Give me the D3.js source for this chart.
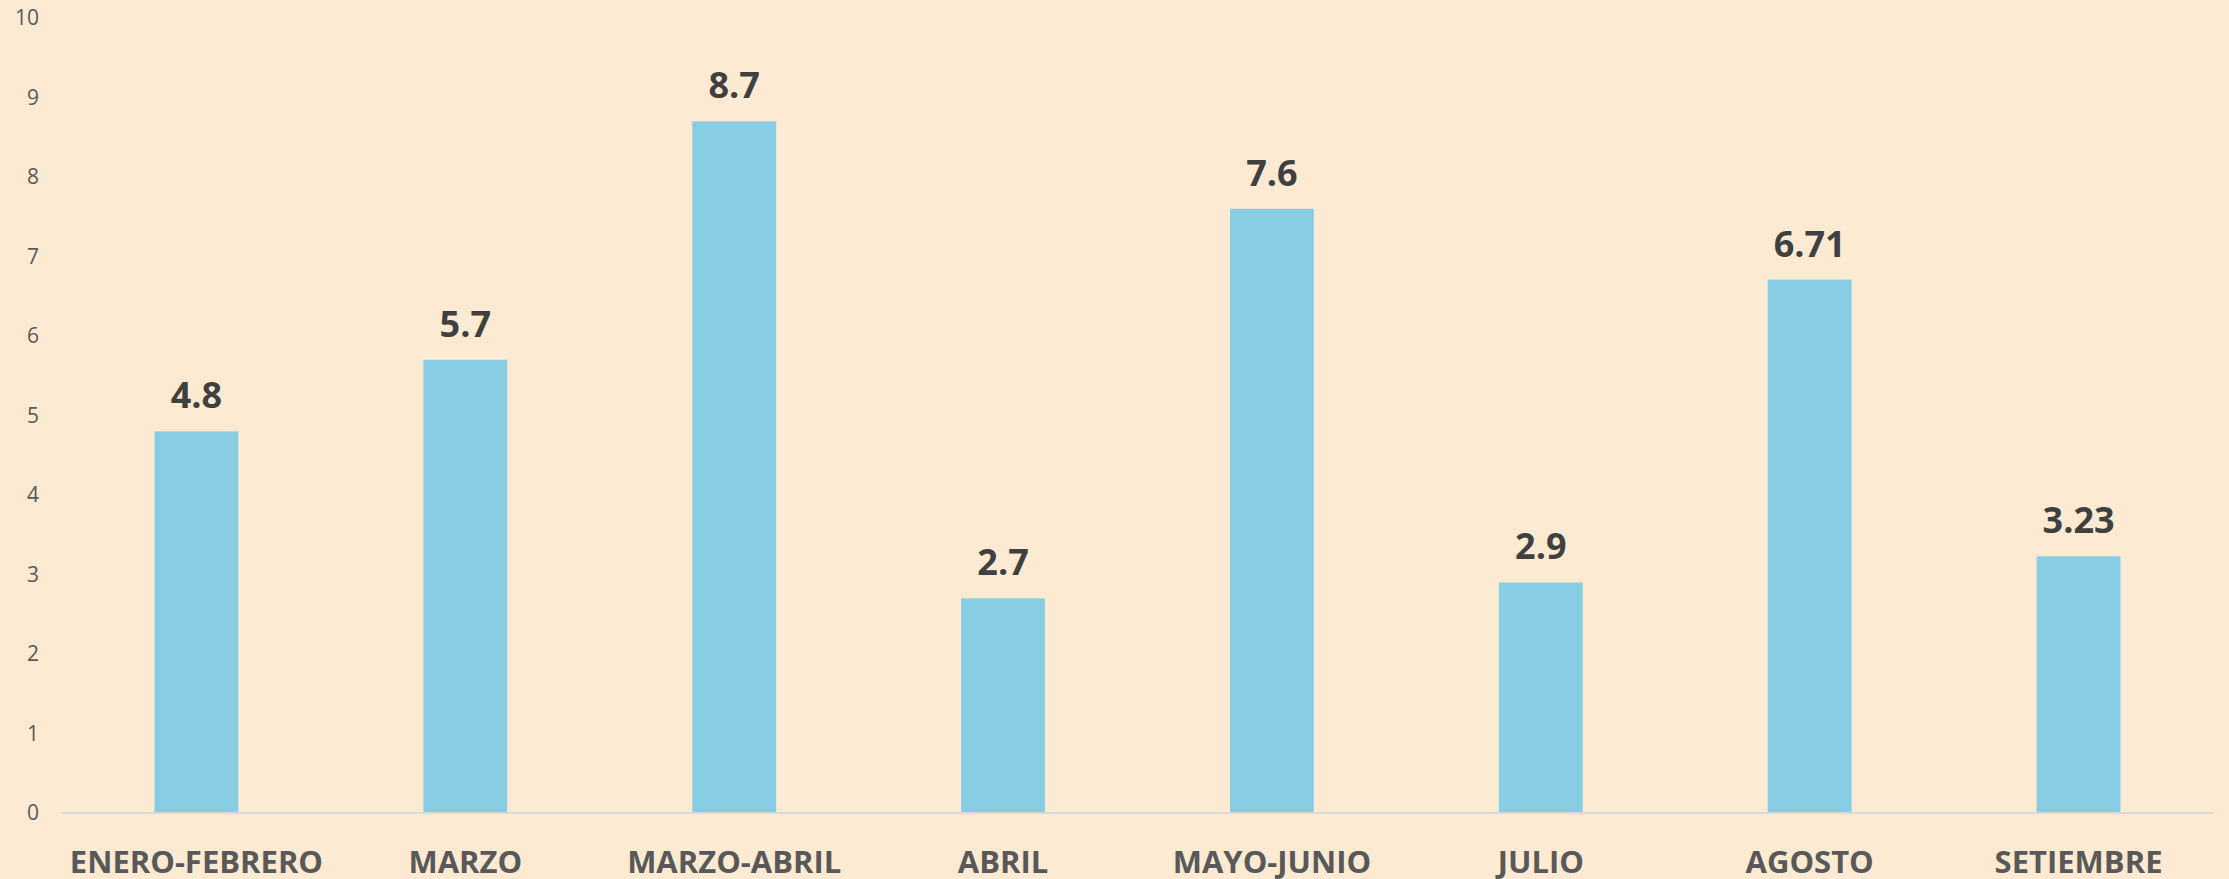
<!DOCTYPE html>
<html>
<head>
<meta charset="utf-8">
<script src="https://cdn.jsdelivr.net/npm/d3@7"></script>
<style>
  html, body { margin: 0; padding: 0; background: #FCEBD2; }
  svg { display: block; }
</style>
</head>
<body>
<svg id="mainsvg" width="2229" height="879"></svg>
<script>
// datos
const meses = ["ENERO-FEBRERO", "MARZO", "MARZO-ABRIL", "ABRIL", "MAYO-JUNIO", "JULIO", "AGOSTO", "SETIEMBRE"];
const valores = [4.8, 5.7, 8.7, 2.7, 7.6, 2.9, 6.71, 3.23];
const etiquetas = ["4.8", "5.7", "8.7", "2.7", "7.6", "2.9", "6.71", "3.23"];
const ticksY = [0, 1, 2, 3, 4, 5, 6, 7, 8, 9, 10];

const svg = d3.select('#mainsvg');
const myWidth = +svg.attr('width');
const myHeight = +svg.attr('height');

const margin = { top: 18, right: 16, bottom: 66, left: 62 };
const innerWidth = myWidth - margin.left - margin.right;
const innerHeight = myHeight - margin.top - margin.bottom;

svg.append('rect')
  .attr('width', myWidth)
  .attr('height', myHeight)
  .attr('fill', '#FCEBD2');

const g = svg.append('g')
  .attr('transform', `translate(${margin.left},${margin.top})`);

// escalas
const x = d3.scaleBand()
  .domain(meses)
  .range([0, innerWidth])
  .paddingInner(0.688)
  .paddingOuter(0.344);

const y = d3.scaleLinear()
  .domain([0, 10])
  .range([innerHeight, 0]);

// eje Y (solo etiquetas)
const yAxis = g.append('g')
  .call(d3.axisLeft(y).tickValues(ticksY).tickSize(0).tickPadding(23));
yAxis.select('.domain').remove();
yAxis.selectAll('text')
  .attr('font-family', 'Open Sans, sans-serif')
  .attr('font-size', 21)
  .attr('fill', '#595959');

// barras
g.selectAll('.bar')
  .data(valores)
  .join('rect')
  .attr('class', 'bar')
  .attr('x', (d, i) => x(meses[i]))
  .attr('y', d => y(d))
  .attr('width', x.bandwidth())
  .attr('height', d => y(0) - y(d))
  .attr('fill', '#87CEE4');

// línea base
g.append('line')
  .attr('x1', 0)
  .attr('x2', innerWidth)
  .attr('y1', y(0))
  .attr('y2', y(0))
  .attr('stroke', '#D9D9D9')
  .attr('stroke-width', 2);

// etiquetas de valores
g.selectAll('.valor')
  .data(valores)
  .join('text')
  .attr('class', 'valor')
  .attr('x', (d, i) => x(meses[i]) + x.bandwidth() / 2)
  .attr('y', d => y(d) - 23)
  .attr('text-anchor', 'middle')
  .attr('font-family', 'Open Sans, sans-serif')
  .attr('font-weight', 'bold')
  .attr('font-size', 36)
  .attr('fill', '#404040')
  .text((d, i) => etiquetas[i]);

// eje X (categorías)
const xAxis = g.append('g')
  .attr('transform', `translate(0,${innerHeight})`)
  .call(d3.axisBottom(x).tickSize(0).tickPadding(38));
xAxis.select('.domain').remove();
xAxis.selectAll('text')
  .attr('font-family', 'Open Sans, sans-serif')
  .attr('font-weight', 'bold')
  .attr('font-size', 31)
  .attr('fill', '#595959');
</script>
</body>
</html>
